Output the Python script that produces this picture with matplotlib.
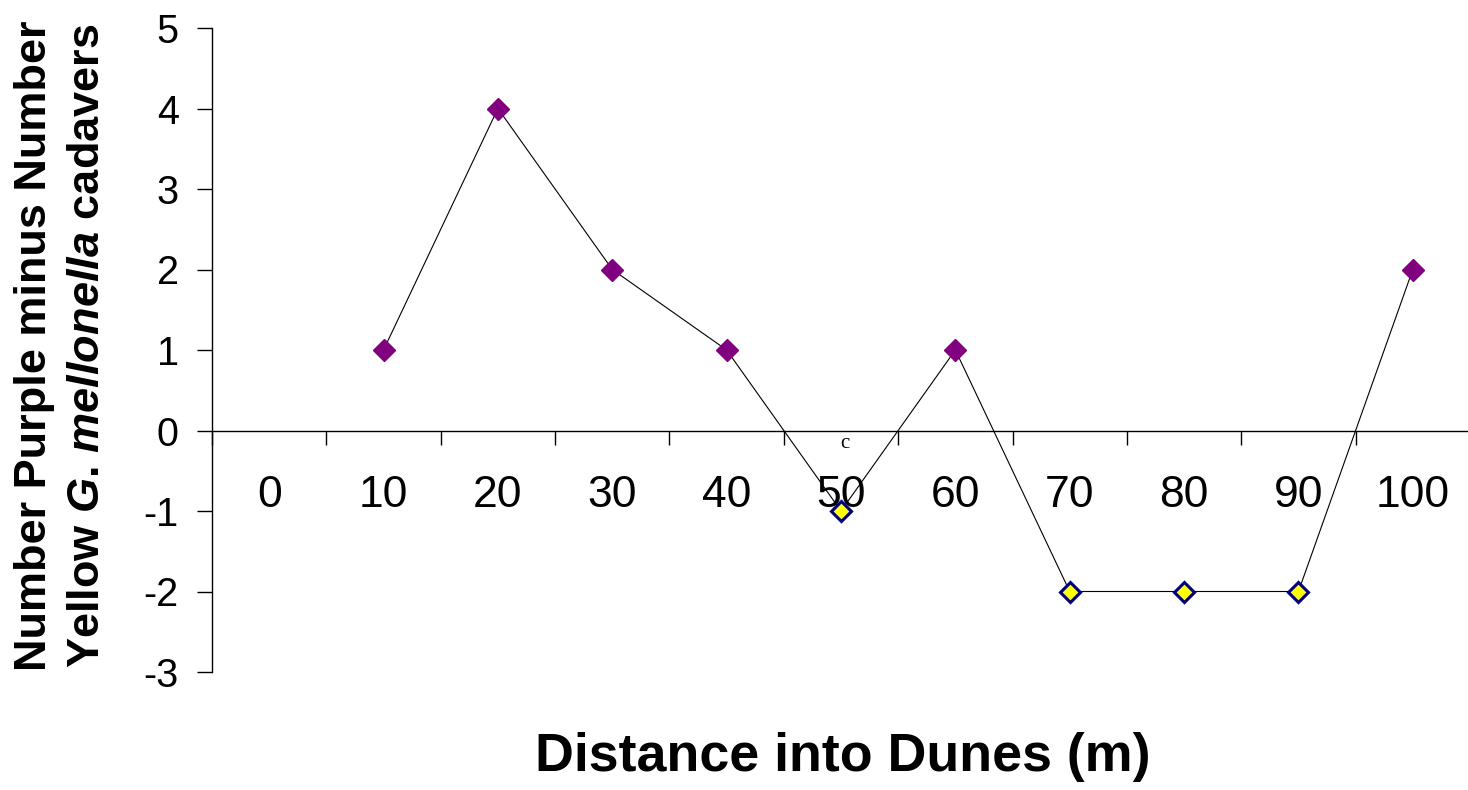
import matplotlib
matplotlib.use("Agg")
import matplotlib.pyplot as plt
import numpy as np

categories = ["0", "10", "20", "30", "40", "50", "60", "70", "80", "90", "100"]
values = [np.nan, 1, 4, 2, 1, -1, 1, -2, -2, -2, 2]
y_ticks = [-3, -2, -1, 0, 1, 2, 3, 4, 5]

plt.rcParams['font.family'] = ['Liberation Sans', 'DejaVu Sans']
plt.rcParams['mathtext.fontset'] = 'custom'
plt.rcParams['mathtext.it'] = 'Liberation Sans:italic:bold'
plt.rcParams['mathtext.rm'] = 'Liberation Sans:bold'

fig = plt.figure(figsize=(14.68, 7.9), dpi=100)
W, H = 1468, 790
ax = fig.add_axes([212 / W, (H - 672) / H, 1258 / W, 644 / H])

x = np.arange(len(categories))
vals = np.array(values, dtype=float)
ax.plot(x, vals, color='black', lw=0.8, zorder=2)
pos = vals > 0
neg = vals < 0
ax.plot(x[pos], vals[pos], ls='none', marker='D', ms=11.5, mfc='#800080', mec='#800080', zorder=3)
ax.plot(x[neg], vals[neg], ls='none', marker='D', ms=10.5, mfc='#FFFF00', mec='#000080', mew=2.2, zorder=3)

ax.set_xlim(-0.5, len(categories) - 0.5)
ax.set_ylim(-3, 5)
ax.spines['top'].set_visible(False)
ax.spines['right'].set_visible(False)
ax.spines['bottom'].set_position(('data', 0))
ax.spines['left'].set_linewidth(1.0)
ax.spines['bottom'].set_linewidth(1.0)

ax.set_yticks(y_ticks)
ax.set_yticklabels([str(v) for v in y_ticks], fontsize=28.5)
ax.tick_params(axis='y', direction='out', length=11, width=1, pad=13)

ax.set_xticks(np.arange(-0.5, len(categories), 1.0))
ax.set_xticklabels([])
ax.tick_params(axis='x', which='major', direction='out', length=10, width=1)
ax.set_xticks(x, minor=True)
ax.set_xticklabels(categories, minor=True, fontsize=32)
ax.tick_params(axis='x', which='minor', length=0, pad=32)

fig.text(843 / W, (H - 757) / H, "Distance into Dunes (m)", ha='center', va='center',
         fontsize=38.7, fontweight='bold')
fig.text(35 / W, (H - 346) / H, "Number Purple minus Number", rotation=90,
         ha='center', va='center', fontsize=32.5, fontweight='bold')
fig.text(88 / W, (H - 346) / H, r"Yellow $G$. $mellonella$ cadavers", rotation=90,
         ha='center', va='center', fontsize=32.5, fontweight='bold')
fig.text(845 / W, (H - 443) / H, "c", ha='center', va='center', fontsize=15,
         family='Liberation Serif')

fig.savefig("out.png", dpi=100)
